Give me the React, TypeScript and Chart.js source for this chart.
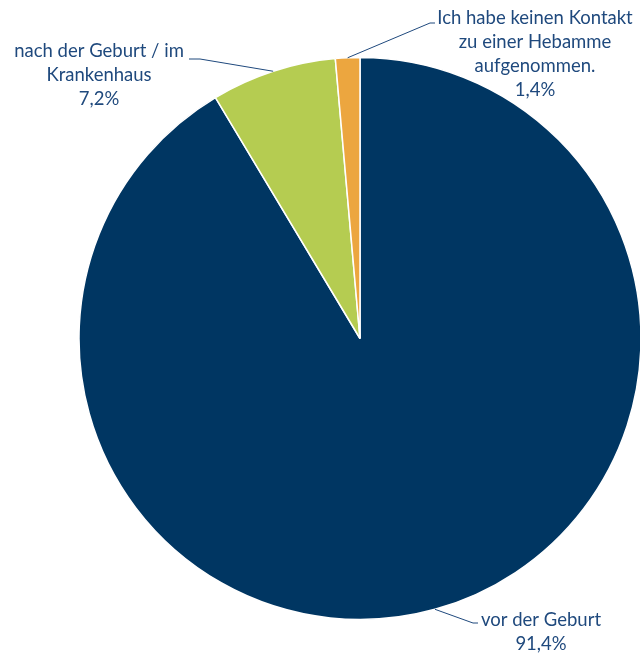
import React, { useEffect, useRef } from "react";
import { Chart, registerables } from "chart.js";

Chart.register(...registerables);

const categories: string[][] = [
  ["vor der Geburt"],
  ["nach der Geburt / im", "Krankenhaus"],
  ["Ich habe keinen Kontakt", "zu einer Hebamme", "aufgenommen."],
];
const values: number[] = [91.4, 7.2, 1.4];
const valueLabels: string[] = ["91,4%", "7,2%", "1,4%"];
const colors: string[] = ["#003662", "#B5CC51", "#ECA63F"];

// label layout: elbow point (end of sloped leader), horizontal end, text anchor
const labelLayout = [
  { elbow: [473, 623], end: [478, 623], textX: 541, textY: 620 },
  { elbow: [200, 59], end: [189, 59], textX: 99, textY: 51 },
  { elbow: [430, 23], end: [435, 23], textX: 535, textY: 18 },
];

const TEXT_COLOR = "#1F497D";
const FONT = '18.5px "Lato", "Open Sans", sans-serif';
const LINE_H = 24;

const labelPlugin = {
  id: "pieLabels",
  afterDraw(chart: any) {
    const ctx = chart.ctx as CanvasRenderingContext2D;
    const meta = chart.getDatasetMeta(0);
    ctx.save();
    ctx.strokeStyle = TEXT_COLOR;
    ctx.lineWidth = 1;
    ctx.fillStyle = TEXT_COLOR;
    ctx.font = FONT;
    ctx.textAlign = "center";
    ctx.textBaseline = "middle";
    meta.data.forEach((arc: any, i: number) => {
      const { x, y, startAngle, endAngle, outerRadius } = arc.getProps(
        ["x", "y", "startAngle", "endAngle", "outerRadius"],
        true
      );
      const mid = (startAngle + endAngle) / 2;
      const sx = x + Math.cos(mid) * outerRadius;
      const sy = y + Math.sin(mid) * outerRadius;
      const lay = labelLayout[i];
      ctx.beginPath();
      ctx.moveTo(sx, sy);
      ctx.lineTo(lay.elbow[0], lay.elbow[1]);
      ctx.lineTo(lay.end[0], lay.end[1]);
      ctx.stroke();
      const lines = [...categories[i], valueLabels[i]];
      lines.forEach((t, k) => {
        ctx.fillText(t, lay.textX, lay.textY + k * LINE_H);
      });
    });
    ctx.restore();
  },
};

export default function App() {
  const ref = useRef<HTMLCanvasElement>(null);
  useEffect(() => {
    if (!ref.current) return;
    const chart = new Chart(ref.current, {
      type: "pie",
      data: {
        labels: categories.map((c) => c.join(" ")),
        datasets: [
          {
            data: values,
            backgroundColor: colors,
            borderColor: "#ffffff",
            borderWidth: 1.5,
          },
        ],
      },
      options: {
        animation: false,
        responsive: false,
        radius: 281,
        layout: { padding: { left: 80, right: 0, top: 57, bottom: 34 } },
        plugins: {
          legend: { display: false },
          tooltip: { enabled: false },
        },
      } as any,
      plugins: [labelPlugin],
    });
    return () => chart.destroy();
  }, []);
  return (
    <div style={{ position: "fixed", left: 0, top: 0, width: 640, height: 654, background: "#fff" }}>
      <canvas ref={ref} width={640} height={654} style={{ width: 640, height: 654 }} />
    </div>
  );
}
